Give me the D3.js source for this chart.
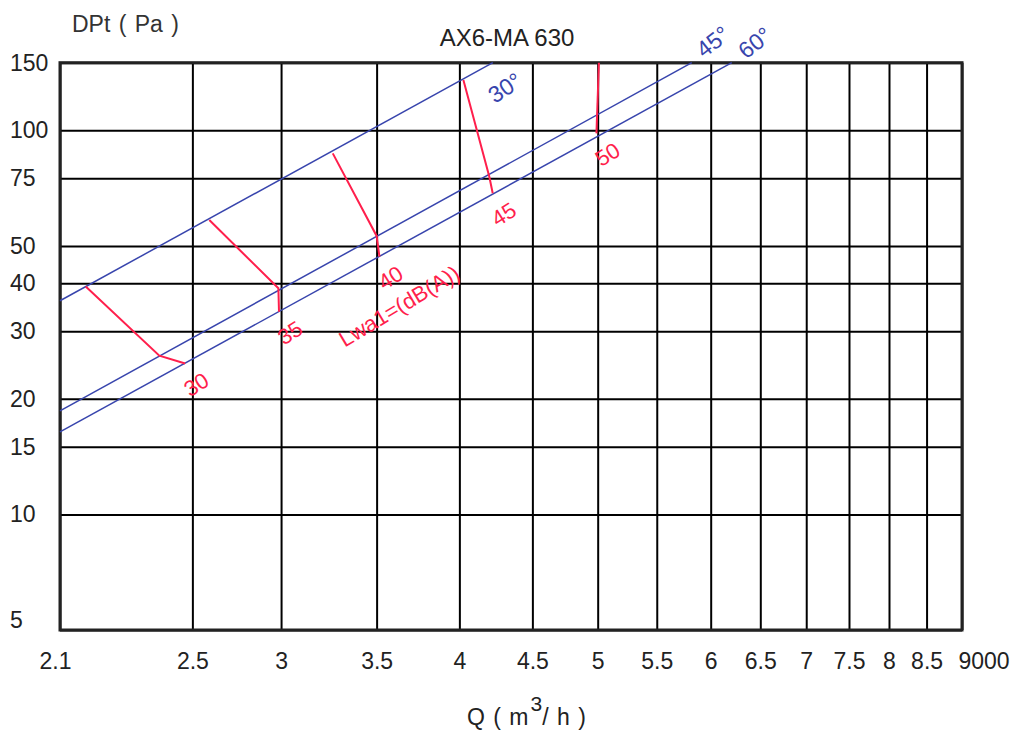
<!DOCTYPE html>
<html>
<head>
<meta charset="utf-8">
<script src="https://cdn.jsdelivr.net/npm/d3@7"></script>
<style>
  body { margin: 0; background: #fff; }
  svg { display: block; font-family: Arial, "Liberation Sans", sans-serif; }
</style>
</head>
<body>
<div id="chart"></div>
<script>
// ######################## Data #############################################
const qTicks = [2100, 2600, 3000, 3500, 4000, 4500, 5000, 5500, 6000, 6500, 7000, 7500, 8000, 8500, 9000];
const qLabels = ["2.1", "2.5", "3", "3.5", "4", "4.5", "5", "5.5", "6", "6.5", "7", "7.5", "8", "8.5", "9000"];
const dpTicks = [5, 10, 15, 20, 30, 40, 50, 75, 100, 150];

// blade angle lines [Q, DPt]
const angleNames = ["30°", "45°", "60°"];
const angle30 = [[2100, 36.0], [4222, 150]];
const angle45 = [[2100, 18.6], [5820, 150]];
const angle60 = [[2100, 16.4], [6208, 150]];

// sound power lines Lwa1 [Q, DPt]
const noiseNames = ["30", "35", "40", "45", "50"];
const noise30 = [[2189, 39.2], [2465, 25.9], [2570, 24.7]];
const noise35 = [[2672, 58.4], [2987, 38.8], [2990, 33.7]];
const noise40 = [[3261, 87.1], [3500, 53.1], [3516, 46.9]];
const noise45 = [[4026, 135.2], [4198, 75.7], [4221, 68.6]];
const noise50 = [[5010, 150], [4990, 98.2]];

// ######################## Chart #############################################
const W = 1015, H = 731;
const margin = { top: 62.7, right: 53, bottom: 101, left: 60 };
const width = W - margin.left - margin.right;
const height = H - margin.top - margin.bottom;

const svg = d3.select("#chart").append("svg")
    .attr("width", W)
    .attr("height", H);

const g = svg.append("g")
    .attr("transform", `translate(${margin.left},${margin.top})`);

const x = d3.scaleLog().domain([2100, 9000]).range([0, width]);
const y = d3.scaleLog().domain([5, 150]).range([height, 0]);

const blue = "#3845ad";
const red = "#ff1f4c";
const fs = "23px";

// x grid + labels
const xAxis = g.append("g")
    .attr("transform", `translate(0,${height})`)
    .call(d3.axisBottom(x)
        .tickValues(qTicks)
        .tickSize(-height)
        .tickFormat((d, i) => qLabels[i]));
xAxis.select(".domain").remove();
xAxis.selectAll(".tick line").attr("stroke", "#000").attr("stroke-width", 2);
xAxis.selectAll(".tick text")
    .attr("y", 39).attr("dy", 0)
    .attr("fill", "#222")
    .style("font-size", fs)
    .attr("text-anchor", (d, i) => i === qTicks.length - 1 ? "start" : "middle")
    .attr("dx", (d, i) => i === qTicks.length - 1 ? -4 : (i === 0 ? -5 : 0));

// y grid + labels
const yAxis = g.append("g")
    .call(d3.axisLeft(y)
        .tickValues(dpTicks)
        .tickSize(-width)
        .tickFormat(d => d));
yAxis.select(".domain").remove();
yAxis.selectAll(".tick line").attr("stroke", "#000").attr("stroke-width", 2);
yAxis.selectAll(".tick text")
    .attr("x", -50)
    .attr("y", d => d === 5 ? -10 : 0)
    .attr("text-anchor", "start")
    .attr("fill", "#222")
    .style("font-size", fs);

// frame
g.append("rect")
    .attr("width", width)
    .attr("height", height)
    .attr("fill", "none")
    .attr("stroke", "#222")
    .attr("stroke-width", 3);

const line = d3.line().x(d => x(d[0])).y(d => y(d[1]));

// angle lines
const angles = [angle30, angle45, angle60];
g.selectAll(".angle")
    .data(angles)
    .join("path")
    .attr("class", "angle")
    .attr("d", line)
    .attr("fill", "none")
    .attr("stroke", blue)
    .attr("stroke-width", 1.5);

const angleOffsets = [[12, 25, -33], [21, -21, -38], [23, -20, -38]];
g.selectAll(".angle-label")
    .data(angles)
    .join("text")
    .attr("class", "angle-label")
    .attr("transform", (d, i) => {
        const p = d[d.length - 1];
        const o = angleOffsets[i];
        return `translate(${x(p[0]) + o[0]},${y(p[1]) + o[1]}) rotate(${o[2]})`;
    })
    .attr("text-anchor", "middle")
    .attr("dy", "0.35em")
    .attr("fill", blue)
    .style("font-size", fs)
    .text((d, i) => angleNames[i]);

// noise lines
const noises = [noise30, noise35, noise40, noise45, noise50];
g.selectAll(".noise")
    .data(noises)
    .join("path")
    .attr("class", "noise")
    .attr("d", line)
    .attr("fill", "none")
    .attr("stroke", red)
    .attr("stroke-width", 2);

g.selectAll(".noise-label")
    .data(noises)
    .join("text")
    .attr("class", "noise-label")
    .attr("transform", d => {
        const p = d[d.length - 1];
        return `translate(${x(p[0]) + 11},${y(p[1]) + 21}) rotate(-32)`;
    })
    .attr("text-anchor", "middle")
    .attr("dy", "0.35em")
    .attr("fill", red)
    .style("font-size", "22px")
    .text((d, i) => noiseNames[i]);

// Lwa1 label, placed between the 35 and 40 lines
g.append("text")
    .attr("transform", `translate(${(x(noise35[2][0]) + x(noise40[2][0])) / 2 + 70},${y(30) - 25}) rotate(-31)`)
    .attr("text-anchor", "middle")
    .attr("dy", "0.35em")
    .attr("fill", red)
    .style("font-size", "22px")
    .text("Lwa1=(dB(A))");

// titles
svg.append("text")
    .attr("x", 72).attr("y", 32)
    .attr("fill", "#333")
    .style("font-size", "23px")
    .style("word-spacing", "2px")
    .text("DPt ( Pa )");

svg.append("text")
    .attr("x", 507).attr("y", 46)
    .attr("text-anchor", "middle")
    .attr("fill", "#222")
    .style("font-size", "24px")
    .text("AX6-MA 630");

const xTitle = svg.append("text")
    .attr("x", 467).attr("y", 725)
    .attr("fill", "#222")
    .style("font-size", fs)
    .style("word-spacing", "2px");
xTitle.append("tspan").text("Q ( m");
xTitle.append("tspan").attr("dy", -14).attr("dx", 2).style("font-size", "21px").text("3");
xTitle.append("tspan").attr("dy", 14).attr("dx", 0).text("/ h )");
</script>
</body>
</html>
